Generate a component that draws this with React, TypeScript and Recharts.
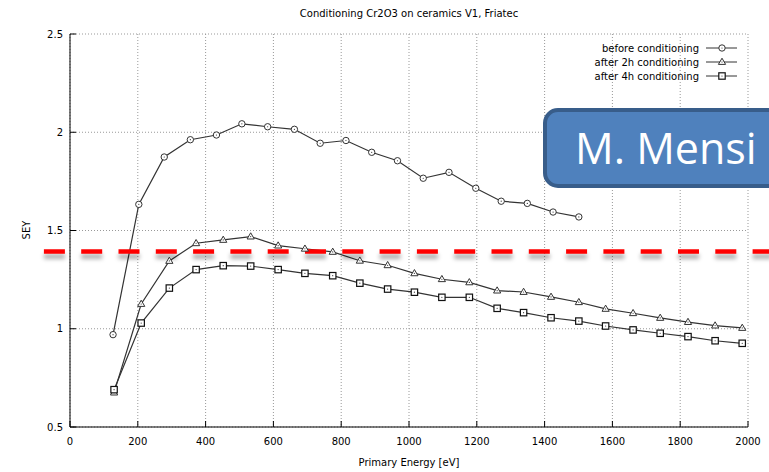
import React from "react";
import {
  LineChart,
  Line,
  XAxis,
  YAxis,
  CartesianGrid,
  Legend,
  ReferenceLine,
} from "recharts";

const chartTitle = "Conditioning Cr2O3 on ceramics V1, Friatec";
const xAxisTitle = "Primary Energy [eV]";
const yAxisTitle = "SEY";
const badgeText = "M. Mensi";

const energyTicks = [0, 200, 400, 600, 800, 1000, 1200, 1400, 1600, 1800, 2000];
const seyTicks = [0.5, 1, 1.5, 2, 2.5];

// before conditioning
const beforeEnergy = [
  127, 203, 278, 355, 432, 507, 583, 662, 738, 814, 890, 966, 1042, 1118, 1197,
  1272, 1349, 1425, 1501,
];
const beforeSey = [
  0.97, 1.633, 1.874, 1.962, 1.986, 2.043, 2.028, 2.015, 1.944, 1.958, 1.898,
  1.855, 1.766, 1.796, 1.715, 1.649, 1.638, 1.594, 1.569,
];

// after 2h / 4h share the same energies
const afterEnergy = [
  130, 210, 293, 372, 452, 533, 614, 693, 775, 855, 937, 1016, 1097, 1178, 1260,
  1338, 1419, 1501, 1580, 1661, 1741, 1823, 1903, 1983,
];
const after2hSey = [
  0.675, 1.126, 1.345, 1.435, 1.452, 1.469, 1.423, 1.407, 1.391, 1.346, 1.323,
  1.282, 1.252, 1.236, 1.194, 1.187, 1.162, 1.135, 1.101, 1.079, 1.055, 1.034,
  1.016, 1.004,
];
const after4hSey = [
  0.69, 1.029, 1.207, 1.301, 1.321, 1.319, 1.301, 1.282, 1.27, 1.232, 1.202,
  1.186, 1.16, 1.16, 1.104, 1.082, 1.056, 1.039, 1.014, 0.994, 0.977, 0.96,
  0.939, 0.926,
];

// red threshold annotation
const thresholdSey = 1.393;
const thresholdFrom = -77;
const thresholdTo = 2070;

type Marker = "circle" | "triangle" | "square";

const toPoints = (xs: number[], ys: number[]) =>
  xs.map((x, i) => ({ energy: x, sey: ys[i] }));

const SERIES: { name: string; data: { energy: number; sey: number }[]; marker: Marker }[] = [
  { name: "before conditioning", data: toPoints(beforeEnergy, beforeSey), marker: "circle" },
  { name: "after 2h conditioning", data: toPoints(afterEnergy, after2hSey), marker: "triangle" },
  { name: "after 4h conditioning", data: toPoints(afterEnergy, after4hSey), marker: "square" },
];

const INK = "#333";
const FONT = "'DejaVu Sans', sans-serif";

function drawMarker(kind: Marker, cx: number, cy: number, key?: string) {
  const center = <circle cx={cx} cy={cy} r={0.6} fill={INK} />;
  if (kind === "circle") {
    return (
      <g key={key}>
        <circle cx={cx} cy={cy} r={3.2} fill="#fff" stroke={INK} strokeWidth={1} />
        {center}
      </g>
    );
  }
  if (kind === "triangle") {
    return (
      <g key={key}>
        <path
          d={`M${cx},${cy - 3.8} L${cx + 3.6},${cy + 2.4} L${cx - 3.6},${cy + 2.4} Z`}
          fill="#fff"
          stroke={INK}
          strokeWidth={1}
        />
        {center}
      </g>
    );
  }
  return (
    <g key={key}>
      <rect x={cx - 3.2} y={cy - 3.2} width={6.4} height={6.4} fill="#fff" stroke="#111" strokeWidth={1.2} />
      {center}
    </g>
  );
}

const markerDot = (kind: Marker) => (props: any) => {
  const { cx, cy, index } = props;
  if (cx == null || cy == null) return <g key={index} />;
  return drawMarker(kind, cx, cy, `m-${index}`);
};

// keep the key in series order (recharts sorts the payload by name)
function KeyBox({ payload }: any) {
  const names = (payload || []).map((p: any) => p.value);
  const rows = SERIES.filter((s) => names.includes(s.name));
  return (
    <svg width={160} height={40} style={{ overflow: "visible" }}>
      {rows.map((s, i) => {
        const y = 5 + i * 14;
        return (
          <g key={s.name}>
            <text
              x={109}
              y={y}
              textAnchor="end"
              dominantBaseline="central"
              fontFamily={FONT}
              fontSize={10}
              fill="#000"
            >
              {s.name}
            </text>
            <line x1={116} x2={147} y1={y} y2={y} stroke={INK} strokeWidth={1} />
            {drawMarker(s.marker, 132, y)}
          </g>
        );
      })}
    </svg>
  );
}

export default function App() {
  const tickStyle = { fill: "#000", fontSize: 10, fontFamily: FONT };
  return (
    <div
      style={{
        position: "fixed",
        left: 0,
        top: 0,
        width: 769,
        height: 472,
        overflow: "hidden",
        background: "#fff",
        fontFamily: FONT,
      }}
    >
      <LineChart
        width={769}
        height={472}
        margin={{ top: 34, right: 21, bottom: 0, left: 0 }}
      >
        <CartesianGrid stroke="#999" strokeDasharray="1 2" />
        <XAxis
          dataKey="energy"
          type="number"
          domain={[0, 2000]}
          ticks={energyTicks}
          allowDataOverflow
          height={45}
          tickSize={-6}
          tickMargin={17}
          tick={tickStyle}
          stroke="#000"
        />
        <XAxis
          xAxisId="top"
          orientation="top"
          type="number"
          domain={[0, 2000]}
          ticks={energyTicks}
          height={0}
          tickSize={-6}
          tick={false}
          stroke="#000"
        />
        <YAxis
          dataKey="sey"
          type="number"
          domain={[0.5, 2.5]}
          ticks={seyTicks}
          allowDataOverflow
          width={70}
          tickSize={-6}
          tickMargin={13}
          tick={tickStyle}
          stroke="#000"
        />
        <YAxis
          yAxisId="right"
          orientation="right"
          type="number"
          domain={[0.5, 2.5]}
          ticks={seyTicks}
          width={0}
          tickSize={-6}
          tick={false}
          stroke="#000"
        />
        <Legend
          layout="horizontal"
          verticalAlign="middle"
          align="center"
          content={<KeyBox />}
          wrapperStyle={{ left: 590, top: 43, width: 160, height: 40 }}
        />
        {SERIES.map((s) => (
          <Line
            key={s.name}
            name={s.name}
            data={s.data}
            dataKey="sey"
            stroke={INK}
            strokeWidth={1.2}
            dot={markerDot(s.marker)}
            activeDot={false}
            isAnimationActive={false}
          />
        ))}
        <ReferenceLine
          segment={[
            { x: thresholdFrom, y: thresholdSey },
            { x: thresholdTo, y: thresholdSey },
          ]}
          ifOverflow="visible"
          stroke="#ff0000"
          strokeWidth={4.5}
          strokeDasharray="21 16.3"
          style={{ filter: "drop-shadow(0px 5px 2px rgba(0,0,0,0.35))" }}
        />
      </LineChart>

      <div
        style={{
          position: "absolute",
          left: 70,
          width: 678,
          top: 8,
          textAlign: "center",
          fontSize: 10,
          lineHeight: "12px",
        }}
      >
        {chartTitle}
      </div>
      <div
        style={{
          position: "absolute",
          left: 70,
          width: 678,
          top: 457,
          textAlign: "center",
          fontSize: 10,
          lineHeight: "12px",
        }}
      >
        {xAxisTitle}
      </div>
      <div
        style={{
          position: "absolute",
          left: 27 - 20,
          top: 230 - 6,
          width: 40,
          height: 12,
          lineHeight: "12px",
          textAlign: "center",
          fontSize: 10,
          transform: "rotate(-90deg)",
        }}
      >
        {yAxisTitle}
      </div>

      <div
        style={{
          position: "absolute",
          left: 543,
          top: 108,
          width: 260,
          height: 80,
          boxSizing: "border-box",
          border: "4px solid #385d8a",
          borderRadius: 15,
          background: "#4f81bd",
          color: "#fff",
          fontFamily: "'Open Sans', sans-serif",
          fontSize: 43,
          lineHeight: "72px",
          paddingLeft: 28,
          whiteSpace: "nowrap",
        }}
      >
        {badgeText}
      </div>
    </div>
  );
}
